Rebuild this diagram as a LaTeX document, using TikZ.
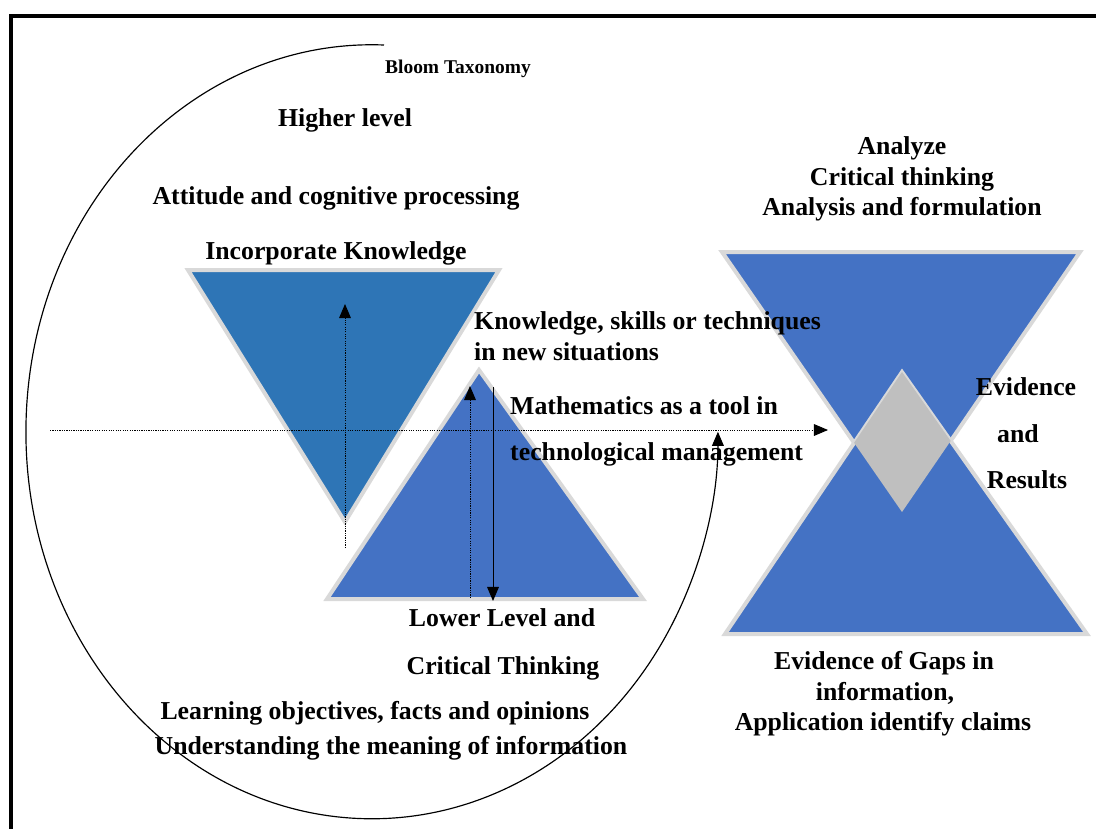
\documentclass[tikz,border=0pt]{standalone}
\usepackage{fontspec}
\setmainfont{Liberation Serif}
\usetikzlibrary{arrows.meta}
\definecolor{darkblue}{HTML}{2E75B6}
\definecolor{midblue}{HTML}{4472C4}
\definecolor{rimgray}{HTML}{D9D9D9}
\definecolor{diagray}{HTML}{BFBFBF}
\tikzset{
  lbl/.style={font=\bfseries\fontsize{22}{26}\selectfont, inner sep=0pt, anchor=base},
  tri/.style={draw=rimgray, line width=3.4pt, line join=miter},
  dotline/.style={dash pattern=on 1pt off 1pt, line width=0.8pt}
}
\begin{document}
\begin{tikzpicture}[x=0.03cm, y=-0.03cm, >={Triangle[length=12pt,width=10pt]}]
        \useasboundingbox (0,0) rectangle (1096,828);
        \begin{scope}
          \clip (0,0) rectangle (1096,828);
          \draw[line width=2.6pt] (11,16) rectangle (1120,850);
        \end{scope}
        % oval round the taxonomy
        \coordinate (ovaltop) at (384,45);
        \draw[line width=1pt, ->] (ovaltop) arc[start angle=272, end angle=0, x radius=346, y radius=387];
        % triangles
        \draw[tri, fill=darkblue] (188,270) -- (499,270) -- (345,522) -- cycle;
        \draw[tri, fill=midblue] (479,370) -- (643,599) -- (327,599) -- cycle;
        \draw[tri, fill=midblue] (722,252) -- (1080,252) -- (902,512) -- cycle;
        \draw[tri, fill=midblue] (725,634) -- (1087,634) -- (902,372) -- cycle;
        \begin{scope}
          \clip (722,252) -- (1080,252) -- (902,512) -- cycle;
          \fill[diagray] (725,634) -- (1087,634) -- (902,372) -- cycle;
        \end{scope}
        % arrows
        \coordinate (hstart) at (50,430);
        \coordinate (hend) at (828,430);
        \draw[dotline, ->] (hstart) -- (hend);
        \coordinate (lefttail) at (345,548);
        \coordinate (lefthead) at (345,304);
        \draw[dotline, ->] (lefttail) -- (lefthead);
        \coordinate (midtail) at (470,598);
        \coordinate (midhead) at (470,386);
        \draw[dotline, ->] (midtail) -- (midhead);
        \coordinate (downtop) at (493,387);
        \coordinate (downhead) at (493,601);
        \draw[line width=0.8pt, ->] (downtop) -- (downhead);
        % labels
        \node[lbl, font=\bfseries\fontsize{16.6}{20}\selectfont] (bloom) at (458,73) {Bloom Taxonomy};
        \node[lbl] (higher) at (345,126) {Higher level};
        \node[lbl] (attitude) at (336,204) {Attitude and cognitive processing};
        \node[lbl] (incorporate) at (336,259) {Incorporate Knowledge};
        \node[lbl, anchor=base west] (skills) at (474,329) {Knowledge, skills or techniques};
        \node[lbl, anchor=base west] (situations) at (474,360) {in new situations};
        \node[lbl] (analyze) at (902,154) {Analyze};
        \node[lbl] (critthink) at (902,185) {Critical thinking};
        \node[lbl] (formulation) at (902,215) {Analysis and formulation};
        \node[lbl, anchor=base west] (maths) at (510,414) {Mathematics as a tool in};
        \node[lbl, anchor=base west] (management) at (510,460) {technological management};
        \node[lbl] (evidence) at (1026,395) {Evidence};
        \node[lbl] (and) at (1018,442) {and};
        \node[lbl] (results) at (1027,488) {Results};
        \node[lbl] (lowerlevel) at (502,626) {Lower Level and};
        \node[lbl] (critical) at (503,674) {Critical Thinking};
        \node[lbl] (learning) at (375,719) {Learning objectives, facts and opinions};
        \node[lbl] (understanding) at (391,754) {Understanding the meaning of information};
        \node[lbl] (gaps) at (884,669) {Evidence of Gaps in};
        \node[lbl] (information) at (885,700) {information,};
        \node[lbl] (claims) at (883,730) {Application identify claims};
      \end{tikzpicture}
\end{document}
